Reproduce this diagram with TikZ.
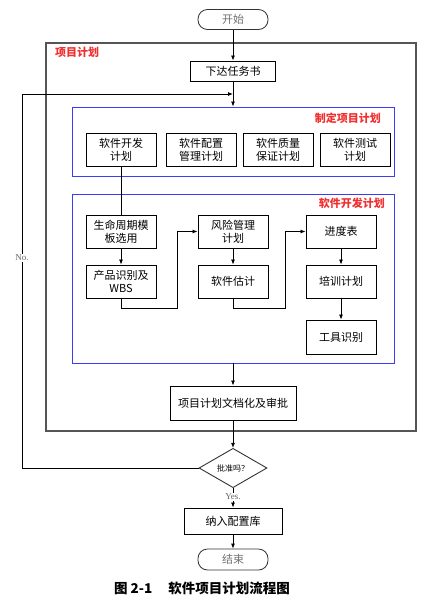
\documentclass[tikz,border=0pt]{standalone}
\usepackage{fontspec}
\setmainfont{Liberation Serif}
\newfontfamily\cjk{Noto Sans CJK SC}
\usepackage{xcolor}
\usepackage{tikz}
\usetikzlibrary{arrows.meta,shapes.geometric}
\definecolor{framec}{HTML}{555555}
\definecolor{bluec}{HTML}{3C3CF5}
\definecolor{labelc}{HTML}{F03030}
\definecolor{capc}{HTML}{707070}
\tikzset{
  stepbox/.style={rectangle, draw=black, line width=0.9pt, fill=white,
    minimum width=70, minimum height=33, inner sep=1pt,
    font=\cjk\fontsize{11}{13}\selectfont, align=center},
  capsule/.style={rectangle, rounded corners=9.5pt, draw=black!80, line width=0.8pt,
    fill=white, minimum width=70, minimum height=20, inner sep=0pt,
    font=\cjk\fontsize{11}{13}\selectfont, text=capc},
  planframe/.style={rectangle, draw=framec, line width=1.2pt, inner sep=0pt},
  subframe/.style={rectangle, draw=bluec, line width=0.9pt, inner sep=0pt},
  framelabel/.style={font=\cjk\bfseries\fontsize{11}{13}\selectfont, text=labelc, inner sep=0pt},
  decision/.style={diamond, draw=black!80, line width=0.9pt, fill=white,
    minimum width=68, minimum height=30, inner sep=0pt,
    font=\cjk\fontsize{8}{10}\selectfont},
  smalltag/.style={font=\fontsize{9}{10}\selectfont, text=black!60, fill=white, inner sep=1pt},
  normaledge/.style={-{Latex[length=5pt,width=4pt]}, draw=black, line width=0.8pt},
  plainedge/.style={draw=black, line width=0.8pt},
}
\begin{document}
\begin{tikzpicture}[x=1pt, y=-1pt]
  \useasboundingbox (0,0) rectangle (433,603);
  % frames
  \node[planframe, minimum width=370, minimum height=388] (plan) at (231,237) {};
  \node[framelabel, anchor=west] (planlbl) at (55,52) {项目计划};
  \node[subframe, minimum width=322, minimum height=69] (fix) at (233,141.5) {};
  \node[framelabel, anchor=east] (fixlbl) at (381,118) {制定项目计划};
  \node[subframe, minimum width=322, minimum height=169] (devframe) at (233,278.5) {};
  \node[framelabel, anchor=east] (devlbl) at (385,203) {软件开发计划};
  % main flow
  \node[capsule] (start) at (233,19.5) {开始};
  \node[stepbox, minimum width=85, minimum height=20] (task) at (233,71) {下达任务书};
  \node[stepbox] (dev) at (121,149.5) {软件开发\\计划};
  \node[stepbox] (cfg) at (201,149.5) {软件配置\\管理计划};
  \node[stepbox] (qa) at (278,149.5) {软件质量\\保证计划};
  \node[stepbox] (test) at (355,149.5) {软件测试\\计划};
  \node[stepbox] (life) at (121,231.5) {生命周期模\\板选用};
  \node[stepbox] (prod) at (121,281.5) {产品识别及\\WBS};
  \node[stepbox] (risk) at (233,231.5) {风险管理\\计划};
  \node[stepbox] (est) at (233,281.5) {软件估计};
  \node[stepbox] (sched) at (341,231.5) {进度表};
  \node[stepbox] (train) at (341,281.5) {培训计划};
  \node[stepbox, minimum height=34] (tool) at (341,337) {工具识别};
  \node[stepbox, minimum width=126, minimum height=34] (doc) at (233,403) {项目计划文档化及审批};
  \node[decision] (dec) at (233,468) {批准吗？};
  \node[stepbox, minimum width=98, minimum height=26] (store) at (233,521) {纳入配置库};
  \node[capsule, minimum height=21] (stop) at (233,559.5) {结束};
  \node[font=\cjk\bfseries\fontsize{13.5}{15}\selectfont] (caption) at (202,588) {图 2-1\hspace{1.2em}软件项目计划流程图};
  \coordinate (j1) at (177,308);
  \coordinate (j2) at (285,308);
  \coordinate (loopc) at (22,94);
  \coordinate (mergec) at (233,94);
  % connectors
  \draw[normaledge] (start) -- (task);
  \draw[normaledge] (task) -- (fix.north);
  \draw[plainedge] (dev) -- (life);
  \draw[normaledge] (life) -- (prod);
  \draw[normaledge] (prod.south) |- (j1) |- (risk.west);
  \draw[normaledge] (risk) -- (est);
  \draw[normaledge] (est.south) |- (j2) |- (sched.west);
  \draw[normaledge] (sched) -- (train);
  \draw[normaledge] (train) -- (tool);
  \draw[normaledge] (devframe.south) -- (doc);
  \draw[normaledge] (doc) -- (dec);
  \draw[normaledge] (dec) -- node[smalltag, pos=0.45] (yes) {Yes.} (store);
  \draw[normaledge] (store) -- (stop);
  \draw[normaledge] (dec.west) -| (loopc) -- (mergec);
  \node[smalltag] (no) at (22,258) {No.};
\end{tikzpicture}
\end{document}
